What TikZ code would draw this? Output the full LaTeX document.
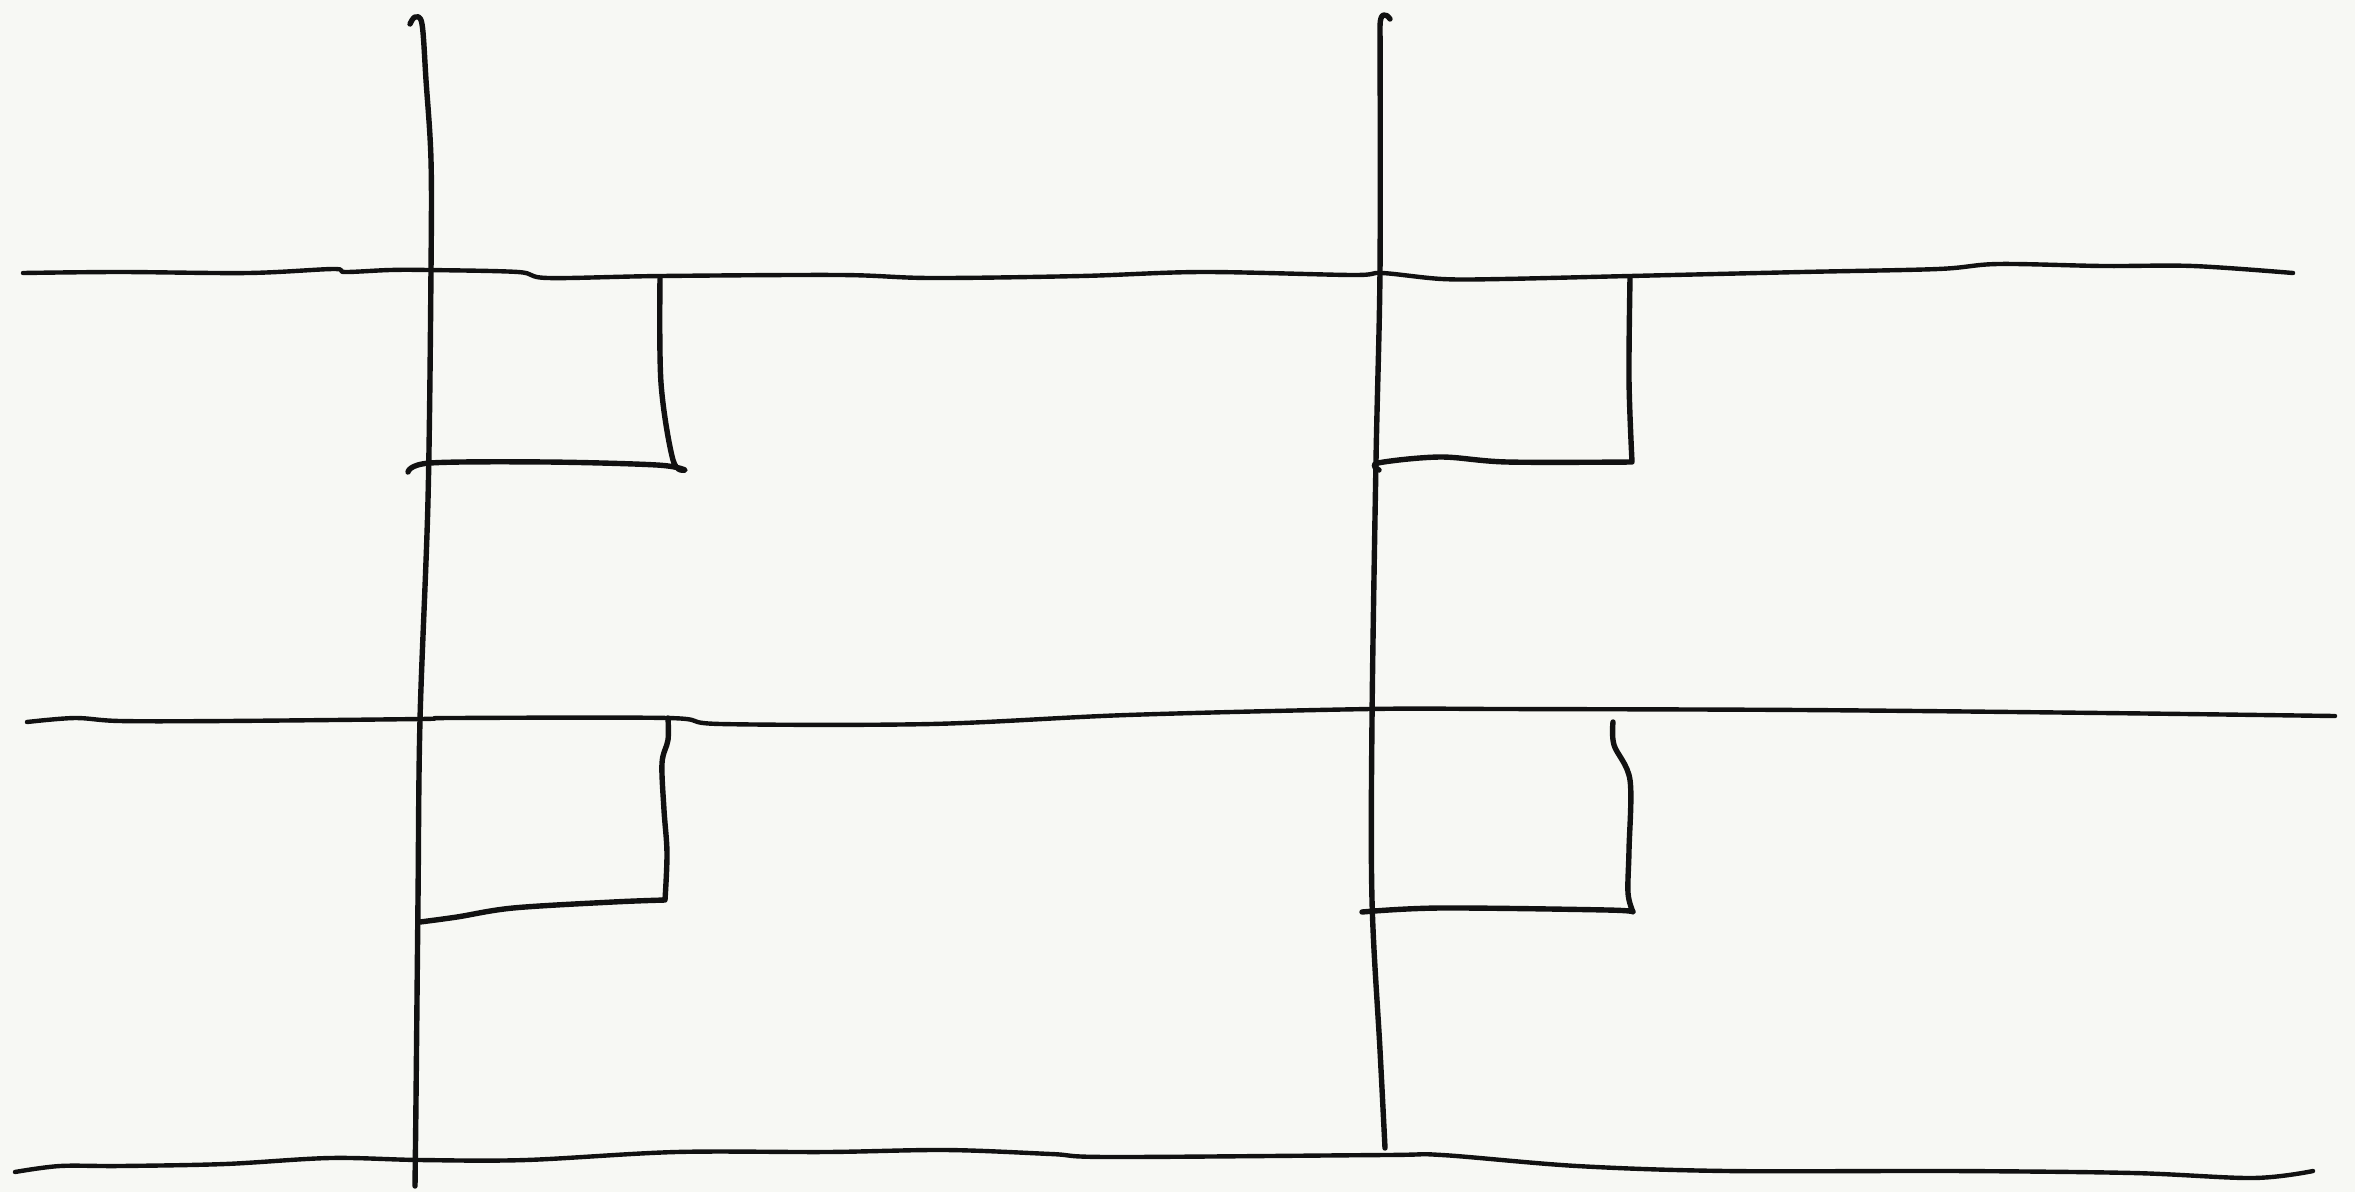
\documentclass[tikz,border=0pt]{standalone}
\usetikzlibrary{backgrounds}
\definecolor{paper}{HTML}{F7F8F4}
\definecolor{ink}{HTML}{111111}
\tikzset{
  pen/.style={draw=ink,line width=5.4pt,line cap=round,line join=round},
  thinpen/.style={pen,line width=4.4pt},
  hand/.style={smooth,tension=0.55}
}

\begin{document}
\begin{tikzpicture}[x=1pt,y=-1pt]
    \fill[paper] (0,0) rectangle (2355,1192);
    \useasboundingbox (0,0) rectangle (2355,1192);
    \draw[thinpen] plot[hand] coordinates {(23,273) (120,272) (248,273) (333,269) (345,272) (390,270) (428,270) (518,272) (548,278) (661,276) (841,275) (931,278) (1081,276) (1202,272) (1352,275) (1382,273) (1442,279) (1502,279) (1630,276) (1802,272) (1938,269) (1998,264) (2103,266) (2193,266) (2293,273)};
    \draw[thinpen] plot[hand] coordinates {(27,722) (75,718) (120,721) (225,721) (420,719) (451,718) (668,718) (721,724) (931,724) (1127,715) (1370,709) (1502,709) (1802,710) (2103,713) (2335,716)};
    \draw[thinpen] plot[hand] coordinates {(15,1172) (60,1166) (120,1166) (225,1164) (330,1158) (420,1160) (526,1160) (676,1152) (826,1152) (946,1150) (1051,1154) (1111,1157) (1385,1155) (1442,1155) (1577,1166) (1727,1171) (1953,1171) (2133,1173) (2253,1178) (2313,1171)};
    \draw[pen] plot[hand] coordinates {(410,24) (415,17) (422,24) (426,80) (431,160) (431,270) (428,500) (420,720) (418,900) (416,1100) (415,1186)};
    \draw[pen] (1390,19) .. controls (1386,13) and (1380,12) .. (1380,26) -- plot[hand] coordinates {(1380,26) (1380,270) (1376,460) (1372,720) (1372,900) (1380,1050) (1385,1148)};
    \draw[pen] plot[hand] coordinates {(660,278) (661,383) (673,460) (685,470)} -- plot[hand] coordinates {(685,470) (657,465) (547,462) (430,463) (408,472)};
    \draw[pen] plot[hand] coordinates {(1630,278) (1629,380) (1632,462)} -- plot[hand] coordinates {(1632,462) (1507,462) (1440,457) (1378,463) (1379,470)};
    \draw[pen] plot[hand] coordinates {(668,718) (668,740) (662,763) (664,810) (667,853) (665,900)} -- plot[hand] coordinates {(665,900) (613,902) (513,908) (457,917) (420,922)};
    \draw[pen] plot[hand] coordinates {(1613,722) (1614,745) (1630,780) (1629,850) (1628,893) (1633,912)} -- plot[hand] coordinates {(1633,912) (1607,910) (1440,908) (1362,912)};
\end{tikzpicture}
\end{document}
